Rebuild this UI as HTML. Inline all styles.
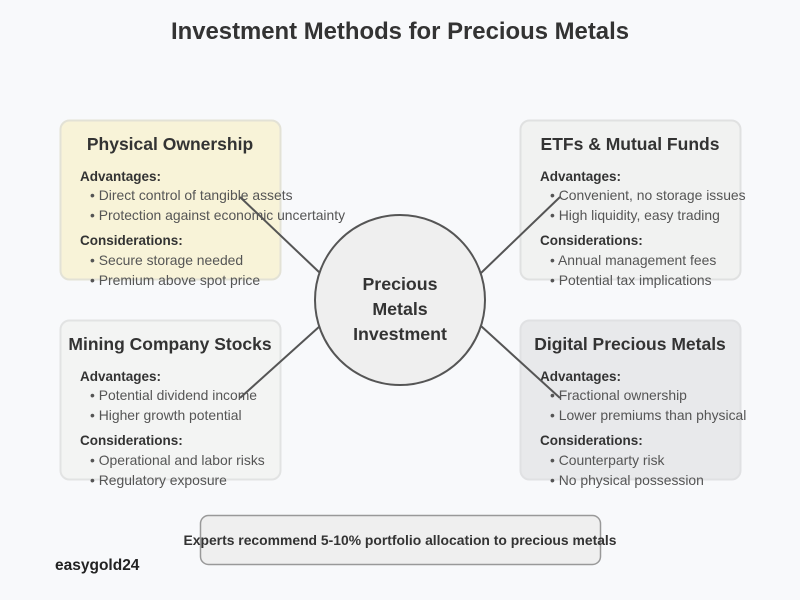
<!DOCTYPE html>
<html><head><meta charset="utf-8"><style>
html,body{margin:0;padding:0;background:#f8f9fb;}
svg{display:block;font-family:"Liberation Sans","DejaVu Sans",sans-serif;}
.t{font-size:17.5px;font-weight:bold;fill:#333;text-anchor:middle}
.h{font-size:13.5px;font-weight:bold;fill:#333}
.b{font-size:13.9px;fill:#555}
</style></head><body>
<svg width="800" height="600" viewBox="0 0 800 600">
<rect width="800" height="600" fill="#f8f9fb"/>
<text x="400" y="39" text-anchor="middle" font-size="23.9" font-weight="bold" fill="#333">Investment Methods for Precious Metals</text>

<rect x="60.5" y="120.5" width="220" height="159" rx="9" fill="#f8f3d8" stroke="#e3e2d6" stroke-width="2"/>
<rect x="520.5" y="120.5" width="220" height="159" rx="9" fill="#f1f2f1" stroke="#e0e1e1" stroke-width="2"/>
<rect x="60.5" y="320.5" width="220" height="159" rx="9" fill="#f3f4f3" stroke="#e2e3e3" stroke-width="2"/>
<rect x="520.5" y="320.5" width="220" height="159" rx="9" fill="#e8e9eb" stroke="#e0e1e3" stroke-width="2"/>

<g>
<text class="t" x="170" y="150">Physical Ownership</text>
<text class="h" x="80" y="181">Advantages:</text>
<text class="b" x="90" y="200">• Direct control of tangible assets</text>
<text class="b" x="90" y="220">• Protection against economic uncertainty</text>
<text class="h" x="80" y="245">Considerations:</text>
<text class="b" x="90" y="265">• Secure storage needed</text>
<text class="b" x="90" y="285">• Premium above spot price</text>
</g>
<g>
<text class="t" x="630" y="150">ETFs &amp; Mutual Funds</text>
<text class="h" x="540" y="181">Advantages:</text>
<text class="b" x="550" y="200">• Convenient, no storage issues</text>
<text class="b" x="550" y="220">• High liquidity, easy trading</text>
<text class="h" x="540" y="245">Considerations:</text>
<text class="b" x="550" y="265">• Annual management fees</text>
<text class="b" x="550" y="285">• Potential tax implications</text>
</g>
<g>
<text class="t" x="170" y="350">Mining Company Stocks</text>
<text class="h" x="80" y="381">Advantages:</text>
<text class="b" x="90" y="400">• Potential dividend income</text>
<text class="b" x="90" y="420">• Higher growth potential</text>
<text class="h" x="80" y="445">Considerations:</text>
<text class="b" x="90" y="465">• Operational and labor risks</text>
<text class="b" x="90" y="485">• Regulatory exposure</text>
</g>
<g>
<text class="t" x="630" y="350">Digital Precious Metals</text>
<text class="h" x="540" y="381">Advantages:</text>
<text class="b" x="550" y="400">• Fractional ownership</text>
<text class="b" x="550" y="420">• Lower premiums than physical</text>
<text class="h" x="540" y="445">Considerations:</text>
<text class="b" x="550" y="465">• Counterparty risk</text>
<text class="b" x="550" y="485">• No physical possession</text>
</g>

<g stroke="#555" stroke-width="2">
<line x1="240" y1="197" x2="320" y2="273"/>
<line x1="560" y1="197" x2="481" y2="273"/>
<line x1="240" y1="398" x2="320" y2="326"/>
<line x1="560" y1="398" x2="481" y2="326"/>
</g>
<circle cx="400" cy="300" r="85" fill="#efefef" stroke="#555" stroke-width="2"/>
<text x="400" y="290" text-anchor="middle" font-size="17.8" font-weight="bold" fill="#333">Precious</text>
<text x="400" y="315" text-anchor="middle" font-size="17.8" font-weight="bold" fill="#333">Metals</text>
<text x="400" y="340" text-anchor="middle" font-size="17.8" font-weight="bold" fill="#333">Investment</text>

<rect x="200.5" y="515.5" width="400" height="49" rx="8" fill="#efefef" stroke="#999" stroke-width="1.5"/>
<text x="400" y="545" text-anchor="middle" font-size="13.9" font-weight="bold" fill="#333">Experts recommend 5-10% portfolio allocation to precious metals</text>
<text x="55" y="570" font-size="15.5" font-weight="bold" fill="#222">easygold24</text>
</svg>
</body></html>
